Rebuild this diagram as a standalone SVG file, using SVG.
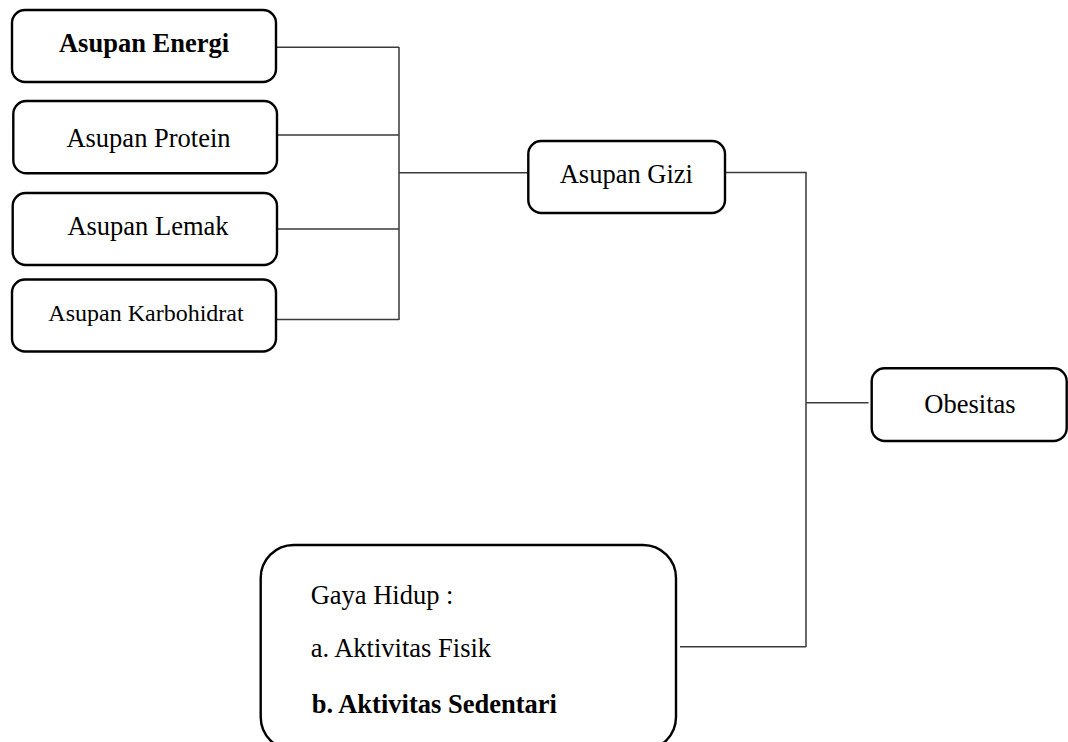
<svg xmlns="http://www.w3.org/2000/svg" width="1068" height="742" viewBox="0 0 1068 742">
<style>
.box{fill:#fff;stroke:#000;stroke-width:2.4}
.t{font-family:"Liberation Serif","Times New Roman",serif;font-size:26.5px;fill:#000}
.b{font-weight:bold}
.c{fill:none;stroke:#3a3a3a;stroke-width:1.5}
</style>
<rect width="1068" height="742" fill="#fff"/>
<g id="connectors">
<path class="c" d="M277 47.3H399M277 135H399M277 229H399M277 319.5H399M399 47V320M399 172.7H528"/>
<path class="c" d="M726 172.5H806V647M806 402.7H868.5M680 646.7H806"/>
</g>
<g id="n-energi">
<rect class="box" x="12" y="10" width="264" height="72" rx="13"/>
<text class="t b" x="144" y="51.7" text-anchor="middle">Asupan Energi</text>
</g>
<g id="n-protein">
<rect class="box" x="13.3" y="101" width="263.7" height="72.3" rx="13"/>
<text class="t" x="148.5" y="146.5" text-anchor="middle">Asupan Protein</text>
</g>
<g id="n-lemak">
<rect class="box" x="12.7" y="193" width="264.3" height="72" rx="13"/>
<text class="t" x="148" y="235" text-anchor="middle">Asupan Lemak</text>
</g>
<g id="n-karbo">
<rect class="box" x="12" y="279.5" width="264" height="72" rx="13"/>
<text class="t" x="146" y="320.7" text-anchor="middle" style="font-size:24px">Asupan Karbohidrat</text>
</g>
<g id="n-gizi">
<rect class="box" x="528.3" y="141" width="196.7" height="72" rx="13"/>
<text class="t" x="626.3" y="183.3" text-anchor="middle">Asupan Gizi</text>
</g>
<g id="n-obesitas">
<rect class="box" x="871.7" y="368.3" width="195" height="72.7" rx="13"/>
<text class="t" x="970" y="412.7" text-anchor="middle">Obesitas</text>
</g>
<g id="n-gaya">
<rect class="box" x="260.7" y="545" width="415.3" height="205" rx="33"/>
<text class="t" x="310.7" y="604">Gaya Hidup :</text>
<text class="t" x="310.7" y="656.7">a. Aktivitas Fisik</text>
<text class="t b" x="311.7" y="712.7">b. Aktivitas Sedentari</text>
</g>
</svg>
